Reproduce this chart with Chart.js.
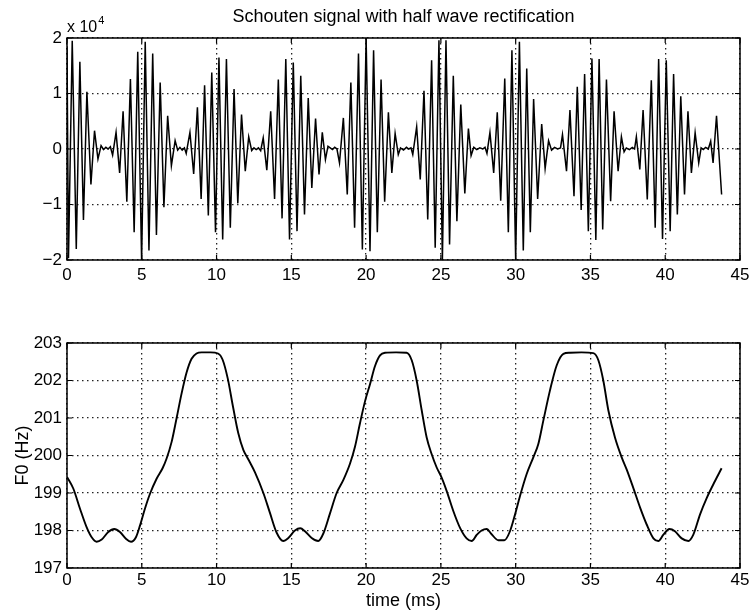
<!DOCTYPE html>
<html><head><meta charset="utf-8">
<script src="https://cdn.jsdelivr.net/npm/chart.js@4.4.1/dist/chart.umd.min.js"></script>
<style>
html,body{margin:0;padding:0;background:#fff;overflow:hidden;}
#wrap{position:relative;width:749px;height:612px;background:#fff;}
canvas{position:absolute;left:0;}
#c1{top:0;width:749px;height:300px;}
#c2{top:300px;width:749px;height:312px;}
</style></head><body>
<div id="wrap">
<canvas id="c1" width="749" height="300"></canvas>
<canvas id="c2" width="749" height="312"></canvas>
</div>
<script>
// ---------- DATA ----------
// Top panel: extremes of the Schouten signal, time in ms, value in units of 10^4
const signalTime = [
 0.0,0.1,0.35,0.62,0.86,1.1,1.33,1.6,1.84,2.07,2.28,2.45,2.6,2.75,2.9,
 3.05,3.28,3.52,3.75,4.0,4.24,4.49,4.73,4.99,5.23,5.48,5.73,5.98,6.23,6.48,6.73,6.98,7.23,7.4,7.55,7.7,7.85,
 7.97,8.22,8.47,8.72,8.97,9.2,9.45,9.68,9.93,10.16,10.41,10.66,10.92,11.17,11.42,11.67,11.92,12.15,12.35,12.5,12.65,12.8,12.95,
 13.12,13.36,13.62,13.88,14.13,14.38,14.63,14.88,15.13,15.38,15.63,15.88,16.13,16.37,16.62,16.85,17.07,17.28,17.45,17.6,17.75,17.9,18.05,
 18.22,18.48,18.74,18.98,19.23,19.49,19.75,20.0,20.26,20.5,20.75,21.0,21.24,21.49,21.72,21.94,22.15,22.3,22.5,22.7,22.85,23.0,23.12,
 23.38,23.62,23.87,24.12,24.38,24.62,24.87,25.1,25.34,25.58,25.83,26.07,26.33,26.6,26.84,27.02,27.2,27.4,27.6,27.8,27.95,28.08,
 28.28,28.53,28.77,29.0,29.27,29.51,29.75,30.0,30.25,30.51,30.74,30.98,31.2,31.47,31.74,31.97,32.2,32.4,32.6,32.8,33.0,
 33.13,33.4,33.63,33.9,34.12,34.38,34.61,34.86,35.1,35.36,35.58,35.82,36.07,36.35,36.58,36.85,37.07,37.25,37.4,37.6,37.8,37.95,
 38.07,38.3,38.52,38.8,39.07,39.33,39.56,39.82,40.07,40.33,40.56,40.81,41.04,41.29,41.52,41.75,42.0,42.24,42.4,42.55,42.7,42.88,
 43.04,43.2,43.43,43.77
];
const signalValue = [
 1.85,-1.97,1.95,-1.8,1.57,-1.28,1.03,-0.64,0.33,-0.18,0.06,-0.01,0.03,0.0,0.04,
 -0.11,0.3,-0.43,0.68,-0.95,1.26,-1.5,1.75,-2.0,1.93,-1.83,1.72,-1.55,1.2,-1.05,0.6,-0.3,0.15,-0.02,0.03,-0.02,0.02,
 -0.08,0.3,-0.45,0.75,-0.9,1.15,-1.2,1.38,-1.5,1.65,-1.63,1.62,-1.42,1.08,-0.98,0.62,-0.4,0.22,-0.03,0.02,-0.01,0.02,-0.03,
 0.2,-0.38,0.68,-0.9,1.25,-1.25,1.62,-1.63,1.56,-1.48,1.32,-1.18,0.92,-0.7,0.55,-0.46,0.3,-0.19,0.05,0.02,-0.01,0.03,0.0,
 -0.25,0.56,-0.82,1.2,-1.42,1.72,-1.81,2.0,-1.84,1.78,-1.5,1.25,-0.95,0.66,-0.43,0.28,-0.1,0.02,-0.02,0.03,0.0,0.02,-0.1,
 0.4,-0.55,1.05,-1.27,1.6,-1.78,1.96,-2.0,1.96,-1.72,1.32,-1.3,0.8,-0.8,0.37,-0.12,0.03,-0.01,0.02,0.0,0.03,-0.08,
 0.3,-0.43,0.66,-0.93,1.27,-1.5,1.78,-2.0,1.93,-1.83,1.45,-1.5,0.9,-0.9,0.45,-0.35,0.15,-0.02,0.03,0.0,0.02,
 0.26,-0.4,0.7,-0.85,1.12,-1.1,1.35,-1.48,1.63,-1.64,1.62,-1.45,1.25,-0.94,0.68,-0.4,0.22,-0.05,0.02,-0.01,0.03,0.0,
 0.22,-0.37,0.7,-0.91,1.24,-1.42,1.62,-1.62,1.6,-1.48,1.35,-1.18,0.95,-0.82,0.68,-0.43,0.29,-0.25,0.02,-0.01,0.03,0.0,
 0.14,-0.25,0.6,-0.82
];
// Bottom panel: F0 track
const f0Time = [
 0.0,0.42,0.87,1.31,1.65,1.98,2.32,2.76,3.16,3.54,3.94,4.28,4.61,4.88,5.21,5.55,5.99,6.39,6.66,7.0,7.33,7.66,8.0,8.33,8.66,9.0,9.6,10.1,
 10.4,10.75,11.1,11.45,11.79,12.12,12.57,13.13,13.57,14.02,14.46,14.8,15.24,15.6,15.91,16.36,16.8,17.14,17.58,18.03,18.48,18.92,19.26,19.59,19.93,20.26,20.59,20.93,21.26,22.0,22.71,
 23.05,23.38,23.72,24.05,24.38,24.72,25.05,25.39,25.83,26.28,26.72,27.06,27.39,27.72,28.06,28.39,28.84,29.24,29.62,29.96,30.29,30.73,31.18,31.51,31.85,32.29,32.74,33.19,33.63,34.4,35.19,
 35.53,35.86,36.2,36.64,37.09,37.42,37.87,38.32,38.76,39.21,39.54,39.88,40.28,40.65,41.1,41.55,41.88,42.33,42.78,43.33,43.77
];
const f0Value = [
 199.43,199.12,198.58,198.09,197.82,197.70,197.76,197.96,198.04,197.96,197.78,197.70,197.82,198.13,198.58,198.98,199.38,199.66,199.92,200.37,201.0,201.65,202.22,202.58,202.72,202.75,202.75,202.72,
 202.56,202.05,201.3,200.6,200.15,199.9,199.55,199.0,198.47,197.94,197.72,197.8,198.0,198.06,197.98,197.8,197.72,197.92,198.45,199.0,199.35,199.78,200.24,200.86,201.45,201.9,202.38,202.67,202.74,202.75,202.74,
 202.54,202.0,201.2,200.48,200.04,199.68,199.41,199.05,198.52,198.07,197.79,197.72,197.88,198.0,198.04,197.9,197.74,197.74,197.98,198.43,198.92,199.5,199.95,200.3,200.93,201.73,202.4,202.71,202.74,202.75,202.73,
 202.54,202.0,201.2,200.48,199.95,199.63,199.13,198.61,198.16,197.79,197.72,197.89,198.04,197.98,197.79,197.72,197.89,198.43,198.87,199.32,199.66
];
const xTicks = {min: 0, max: 45, step: 5};
const topY = {min: -2, max: 2, step: 1};
const bottomY = {min: 197, max: 203, step: 1};
const titleText = 'Schouten signal with half wave rectification';
const xLabel = 'time (ms)';
const yLabel = 'F0 (Hz)';

// ---------- RENDERING ----------
const FONT = "'Liberation Sans', Arial, Helvetica, sans-serif";
Chart.defaults.font.family = FONT;
Chart.defaults.color = '#000';

const frame = {
  id: 'frame',
  afterDraw(chart) {
    const {ctx, chartArea: a, scales} = chart;
    ctx.save();
    ctx.strokeStyle = '#000';
    ctx.lineWidth = 1.5;
    ctx.strokeRect(a.left, a.top, a.right - a.left, a.bottom - a.top);
    ctx.lineWidth = 1.2;
    const tl = 5;
    ctx.beginPath();
    scales.x.ticks.forEach(t => {
      const p = scales.x.getPixelForValue(t.value);
      ctx.moveTo(p, a.bottom); ctx.lineTo(p, a.bottom - tl);
      ctx.moveTo(p, a.top); ctx.lineTo(p, a.top + tl);
    });
    scales.y.ticks.forEach(t => {
      const p = scales.y.getPixelForValue(t.value);
      ctx.moveTo(a.left, p); ctx.lineTo(a.left + tl, p);
      ctx.moveTo(a.right, p); ctx.lineTo(a.right - tl, p);
    });
    ctx.stroke();
    ctx.restore();
  }
};

const topText = {
  id: 'topText',
  afterDraw(chart) {
    const {ctx, chartArea: a} = chart;
    ctx.save();
    ctx.fillStyle = '#000';
    ctx.textBaseline = 'alphabetic';
    ctx.textAlign = 'center';
    ctx.font = '18px ' + FONT;
    ctx.fillText(titleText, (a.left + a.right) / 2, 22);
    ctx.textAlign = 'left';
    ctx.font = '16px ' + FONT;
    ctx.fillText('x 10', a.left, 32);
    const w = ctx.measureText('x 10').width;
    ctx.font = '11px ' + FONT;
    ctx.fillText('4', a.left + w + 1, 24);
    ctx.restore();
  }
};

const minus = v => (v < 0 ? '\u2212' + Math.abs(v) : String(v));
const gridOpts = {color: '#222', lineWidth: 1.3, drawTicks: false};
const dash = {display: false, dash: [1.5, 3.5]};

function xScale(extra) {
  return Object.assign({
    type: 'linear', min: xTicks.min, max: xTicks.max,
    ticks: {stepSize: xTicks.step, font: {size: 17}, color: '#000', maxRotation: 0, autoSkip: false, padding: 5},
    grid: gridOpts, border: dash
  }, extra);
}

new Chart(document.getElementById('c1'), {
  type: 'line',
  data: {datasets: [{
    data: signalTime.map((t, i) => ({x: t, y: signalValue[i]})),
    borderColor: '#000', borderWidth: 1.5, pointRadius: 0, tension: 0, fill: false
  }]},
  options: {
    responsive: false, animation: false, events: [],
    layout: {padding: {top: 38, right: 9, left: 0, bottom: 0}},
    plugins: {legend: {display: false}, tooltip: {enabled: false}, title: {display: false}},
    scales: {
      x: xScale({afterFit(s) { s.height = 40; s.paddingLeft = 0; s.paddingRight = 0; }}),
      y: {
        min: topY.min, max: topY.max,
        ticks: {stepSize: topY.step, font: {size: 17}, color: '#000', padding: 5, callback: minus},
        grid: gridOpts, border: dash,
        afterFit(s) { s.width = 67; s.paddingTop = 0; s.paddingBottom = 0; }
      }
    }
  },
  plugins: [frame, topText]
});

new Chart(document.getElementById('c2'), {
  type: 'line',
  data: {datasets: [{
    data: f0Time.map((t, i) => ({x: t, y: f0Value[i]})),
    borderColor: '#000', borderWidth: 1.9, pointRadius: 0, cubicInterpolationMode: 'monotone', fill: false
  }]},
  options: {
    responsive: false, animation: false, events: [],
    layout: {padding: {top: 43, right: 9, left: 0, bottom: 0}},
    plugins: {legend: {display: false}, tooltip: {enabled: false}, title: {display: false}},
    scales: {
      x: xScale({
        ticks: {stepSize: xTicks.step, font: {size: 17}, color: '#000', maxRotation: 0, autoSkip: false, padding: 2},
        title: {display: true, text: xLabel, font: {size: 18}, color: '#000', padding: {top: 0, bottom: 0}},
        afterFit(s) { s.height = 44; s.paddingLeft = 0; s.paddingRight = 0; }
      }),
      y: {
        min: bottomY.min, max: bottomY.max,
        ticks: {stepSize: bottomY.step, font: {size: 17}, color: '#000', padding: 5},
        title: {display: true, text: yLabel, font: {size: 18}, color: '#000', padding: {top: 12, bottom: 0}},
        grid: gridOpts, border: dash,
        afterFit(s) { s.width = 67; s.paddingTop = 0; s.paddingBottom = 0; }
      }
    }
  },
  plugins: [frame]
});
</script>
</body></html>
